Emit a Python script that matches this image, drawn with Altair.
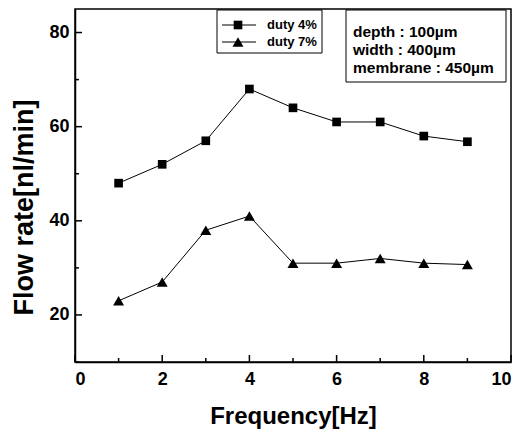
import altair as alt
import pandas as pd

freq = [1, 2, 3, 4, 5, 6, 7, 8, 9]
duty4 = [48, 52, 57, 68, 64, 61, 61, 58, 56.8]
duty7 = [23, 27, 38, 41, 31, 31, 32, 31, 30.7]
series_names = ["duty 4%", "duty 7%"]
info_lines = ["depth : 100µm", "width : 400µm", "membrane : 450µm"]
x_ticks = [0, 2, 4, 6, 8, 10]
x_minor = [1, 3, 5, 7, 9]
y_ticks = [20, 40, 60, 80]
y_minor = [10, 30, 50, 70]

W, H = 436, 353
FONT = "Liberation Sans"

df = pd.DataFrame({
    "f": freq * 2,
    "v": duty4 + duty7,
    "s": [series_names[0]] * len(freq) + [series_names[1]] * len(freq),
})

xs = alt.Scale(domain=[0, 10], nice=False)
ys = alt.Scale(domain=[10, 85], nice=False)
shape_scale = alt.Scale(domain=series_names, range=["square", "triangle-up"])
size_scale = alt.Scale(domain=series_names, range=[75, 120])

x_axis = alt.Axis(values=x_ticks, title="Frequency[Hz]", ticks=False, grid=False,
                  domainColor="black", domainWidth=1.5, labelFont=FONT, labelFontSize=18,
                  labelFontWeight="bold", labelColor="black", labelPadding=8,
                  titleFont=FONT, titleFontSize=24, titleFontWeight="bold",
                  titleColor="black", titlePadding=16)
y_axis = alt.Axis(values=y_ticks, title="Flow rate[nl/min]", ticks=False, grid=False,
                  domainColor="black", domainWidth=1.5, labelFont=FONT, labelFontSize=18,
                  labelFontWeight="bold", labelColor="black", labelPadding=6,
                  titleFont=FONT, titleFontSize=27, titleFontWeight="bold",
                  titleColor="black", titlePadding=10, titleY=198)

base = alt.Chart(df)
lines = base.mark_line(color="black", strokeWidth=1).encode(
    x=alt.X("f:Q", scale=xs, axis=x_axis),
    y=alt.Y("v:Q", scale=ys, axis=y_axis),
    detail="s:N",
)
points = base.mark_point(filled=True, color="black", opacity=1).encode(
    x=alt.X("f:Q", scale=xs),
    y=alt.Y("v:Q", scale=ys),
    shape=alt.Shape("s:N", scale=shape_scale, legend=None),
    size=alt.Size("s:N", scale=size_scale, legend=None),
)

# inward ticks
xt = pd.DataFrame({"t": x_ticks})
xm = pd.DataFrame({"t": x_minor})
yt = pd.DataFrame({"t": y_ticks})
ym = pd.DataFrame({"t": y_minor})
xtick_major = alt.Chart(xt).mark_rule(color="black", strokeWidth=1.5).encode(
    x=alt.X("t:Q", scale=xs), y=alt.value(H), y2=alt.value(H - 7))
xtick_minor = alt.Chart(xm).mark_rule(color="black", strokeWidth=1.5).encode(
    x=alt.X("t:Q", scale=xs), y=alt.value(H), y2=alt.value(H - 4))
ytick_major = alt.Chart(yt).mark_rule(color="black", strokeWidth=1.5).encode(
    y=alt.Y("t:Q", scale=ys), x=alt.value(0), x2=alt.value(7))
ytick_minor = alt.Chart(ym).mark_rule(color="black", strokeWidth=1.5).encode(
    y=alt.Y("t:Q", scale=ys), x=alt.value(0), x2=alt.value(4))

one = pd.DataFrame({"a": [0]})

# legend box
leg_box = alt.Chart(one).mark_rect(fill="white", stroke="black", strokeWidth=1).encode(
    x=alt.value(142), x2=alt.value(247), y=alt.value(1), y2=alt.value(44))
leg_df = pd.DataFrame({"s": series_names, "yy": [16, 33]})
leg_line_df = pd.DataFrame({"s": ["a", "a", "b", "b"], "lx": [147, 181, 147, 181],
                            "ly": [16, 16, 33, 33]})
leg_lines = alt.Chart(leg_line_df).mark_line(color="black", strokeWidth=1.2).encode(
    x=alt.X("lx:Q", scale=None), y=alt.Y("ly:Q", scale=None), detail="s:N")
leg_pts = alt.Chart(leg_df).mark_point(filled=True, color="black", opacity=1).encode(
    x=alt.value(163), y=alt.Y("yy:Q", scale=None),
    shape=alt.Shape("s:N", scale=shape_scale, legend=None),
    size=alt.Size("s:N", scale=size_scale, legend=None))
leg_txt = alt.Chart(leg_df).mark_text(align="left", baseline="middle", font=FONT,
                                      fontSize=13, fontWeight="bold", color="black").encode(
    x=alt.value(192), y=alt.Y("yy:Q", scale=None), text="s:N")

# info box
info_box = alt.Chart(one).mark_rect(fill="white", stroke="black", strokeWidth=1).encode(
    x=alt.value(271), x2=alt.value(431), y=alt.value(1), y2=alt.value(73))
info_df = pd.DataFrame({"t": info_lines, "yy": [23, 41, 59]})
info_txt = alt.Chart(info_df).mark_text(align="left", baseline="middle", font=FONT,
                                        fontSize=15.5, fontWeight="bold", color="black").encode(
    x=alt.value(278), y=alt.Y("yy:Q", scale=None), text="t:N")

chart = alt.layer(
    lines, points, xtick_major, xtick_minor, ytick_major, ytick_minor,
    leg_box, leg_lines, leg_pts, leg_txt, info_box, info_txt,
).properties(
    width=W, height=H,
    autosize=alt.AutoSizeParams(type="none"),
    padding={"left": 67, "top": 1, "right": 2, "bottom": 70},
    background="white",
).configure_view(stroke="black", strokeWidth=1.5)

chart.save("out.html", embed_options={"renderer": "svg", "actions": False})
